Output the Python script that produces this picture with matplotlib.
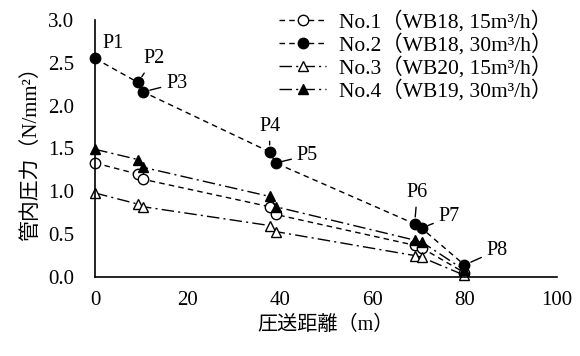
import matplotlib.pyplot as plt

plt.rcParams['font.family'] = ['Liberation Serif', 'Noto Sans CJK JP']

# --- DATA ---
dist = [0, 9.3, 10.4, 37.8, 39.1, 69.2, 70.7, 80]
no1 = [1.33, 1.20, 1.14, 0.82, 0.73, 0.37, 0.34, 0.05]
no2 = [2.55, 2.27, 2.16, 1.46, 1.33, 0.62, 0.57, 0.14]
no3 = [0.98, 0.85, 0.82, 0.60, 0.53, 0.25, 0.23, 0.02]
no4 = [1.49, 1.37, 1.28, 0.94, 0.82, 0.43, 0.41, 0.08]

labels = ['No.1（WB18, 15m³/h）', 'No.2（WB18, 30m³/h）',
          'No.3（WB20, 15m³/h）', 'No.4（WB19, 30m³/h）']

p_names = ['P1', 'P2', 'P3', 'P4', 'P5', 'P6', 'P7', 'P8']
p_text = [(1.5, 2.73), (10.4, 2.55), (15.4, 2.26), (35.5, 1.76),
          (43.7, 1.42), (67.5, 0.99), (74.4, 0.70), (84.8, 0.31)]
p_leader = [False, True, True, True, True, True, True, True]

fig = plt.figure(figsize=(5.8, 3.56), dpi=100)
ax = fig.add_axes([0.164, 0.222, 0.796, 0.722])

dash = (0, (4, 3))
dashdot = (0, (9, 3, 1.5, 3))
ax.plot(dist, no1, ls=dash, color='black', lw=1, marker='o', ms=7.5,
        mfc='white', mec='black', label=labels[0])
ax.plot(dist, no2, ls=dash, color='black', lw=1, marker='o', ms=7.5,
        mfc='black', mec='black', label=labels[1])
ax.plot(dist, no3, ls=dashdot, color='black', lw=1, marker='^', ms=7.5,
        mfc='white', mec='black', label=labels[2])
ax.plot(dist, no4, ls=dashdot, color='black', lw=1, marker='^', ms=7.5,
        mfc='black', mec='black', label=labels[3])

# point labels with leader lines (series No.2)
for i, name in enumerate(p_names):
    tx, ty = p_text[i]
    if p_leader[i]:
        ax.annotate(name, xy=(dist[i], no2[i]), xytext=(tx, ty), fontsize=14.5,
                    ha='left', va='center',
                    arrowprops=dict(arrowstyle='-', color='black', lw=1,
                                    shrinkA=2, shrinkB=5))
    else:
        ax.text(tx, ty, name, fontsize=14.5, ha='left', va='center')

ax.set_xlim(0, 100)
ax.set_ylim(0, 3.0)
ax.set_xticks([0, 20, 40, 60, 80, 100])
ax.set_yticks([0, 0.5, 1.0, 1.5, 2.0, 2.5, 3.0])
ax.set_yticklabels([f'{v:.1f}' for v in [0, 0.5, 1.0, 1.5, 2.0, 2.5, 3.0]])
ax.tick_params(length=0, labelsize=15)
ax.tick_params(axis='x', pad=10)
ax.tick_params(axis='y', pad=15)
ax.spines['top'].set_visible(False)
ax.spines['right'].set_visible(False)
ax.spines['left'].set_linewidth(1.2)
ax.spines['bottom'].set_linewidth(1.2)
ax.set_xlabel('圧送距離（m）', fontsize=14.5, labelpad=4)
ax.set_ylabel('管内圧力（N/mm²）', fontsize=15, labelpad=5)

ax.legend(loc='upper right', bbox_to_anchor=(1.01, 1.07), frameon=False,
          fontsize=15.5, handlelength=2.2, handletextpad=0.6, labelspacing=0.05,
          borderaxespad=0)

for line in ax.lines:
    line.set_clip_on(False)

fig.savefig('out.png', dpi=100)
